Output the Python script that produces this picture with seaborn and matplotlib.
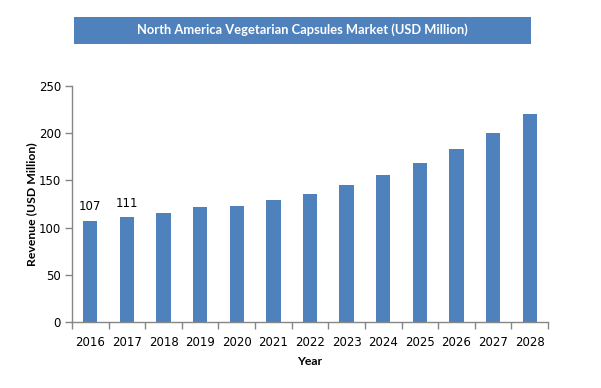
import matplotlib
matplotlib.use("Agg")
import matplotlib.pyplot as plt
import seaborn as sns
import pandas as pd
from matplotlib.patches import Rectangle

years = ["2016", "2017", "2018", "2019", "2020", "2021", "2022", "2023", "2024", "2025", "2026", "2027", "2028"]
revenue = [107, 111, 116, 122, 123, 129, 136, 145, 156, 168, 183, 200, 220]
labeled = {"2016": "107", "2017": "111"}
yticks = [0, 50, 100, 150, 200, 250]
title = "North America Vegetarian Capsules Market (USD Million)"

sns.set_theme(style="white")
plt.rcParams["font.family"] = ["DejaVu Sans"]

df = pd.DataFrame({"Year": years, "Revenue": revenue})

fig = plt.figure(figsize=(6.01, 3.88), dpi=100)
ax = fig.add_axes([72/601, 1-322.3/388, (548-72)/601, (322.3-85.7)/388])

sns.barplot(data=df, x="Year", y="Revenue", color="#4F81BD", saturation=1,
            width=0.39, linewidth=0, ax=ax)

ax.set_ylim(0, 250)
ax.set_xlim(-0.5, len(years)-0.5)
ax.set_yticks(yticks)
ax.set_yticklabels([str(t) for t in yticks], fontsize=8.5, color="#000000")
ax.set_xticks([i - 0.5 for i in range(len(years)+1)], minor=True)
ax.tick_params(axis="x", which="major", bottom=False, length=0, labelsize=8.5, pad=10, colors="#000000")
ax.tick_params(axis="x", which="minor", bottom=True, length=5, width=1, color="#868686", direction="out")
ax.tick_params(axis="y", which="major", left=True, length=5, width=1, color="#868686", direction="out", pad=3)

for s in ["top", "right"]:
    ax.spines[s].set_visible(False)
for s in ["left", "bottom"]:
    ax.spines[s].set_color("#868686")
    ax.spines[s].set_linewidth(1)

ax.set_xlabel("Year", fontsize=8.8, fontweight="bold", family=["Lato", "DejaVu Sans"],
              color="#000000", labelpad=5)
ax.set_ylabel("Revenue (USD Million)", fontsize=8.8, fontweight="bold", family=["Lato", "DejaVu Sans"],
              color="#000000", labelpad=1)

for i, (y, v) in enumerate(zip(years, revenue)):
    if y in labeled:
        ax.text(i, v + 8, labeled[y], ha="center", va="bottom", fontsize=8.5, color="#000000")

# title banner
fig.patches.append(Rectangle((74/601, 1-43.7/388), (531-74)/601, 27/388,
                             transform=fig.transFigure, facecolor="#4F81BD",
                             edgecolor="none", zorder=0))
fig.text((74+531)/2/601, 1-29.5/388, title, ha="center", va="center",
         fontsize=9.3, fontweight="bold", family=["Lato", "DejaVu Sans"], color="white")

fig.savefig("out.png", dpi=100)
